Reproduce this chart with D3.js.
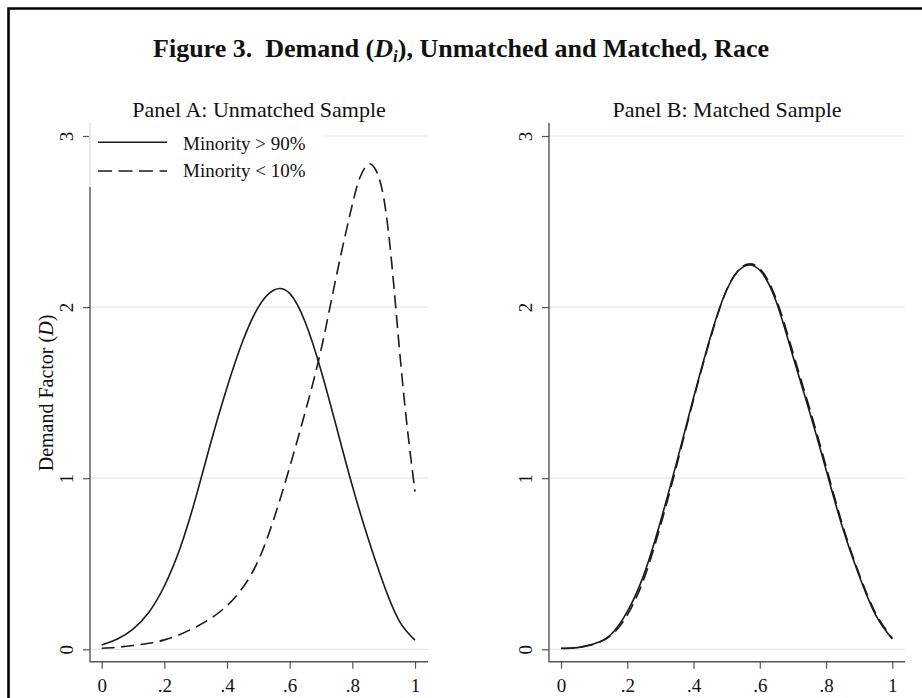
<!DOCTYPE html>
<html>
<head>
<meta charset="utf-8">
<script src="https://cdn.jsdelivr.net/npm/d3@7"></script>
<style>
  body { margin: 0; background: #fff; }
  text { font-family: "Liberation Serif", "Times New Roman", serif; fill: #111; }
</style>
</head>
<body>
<div id="chart"></div>
<script>
// demand factor
let xs = [0, 0.05, 0.1, 0.15, 0.2, 0.25, 0.3, 0.35, 0.4, 0.45, 0.5, 0.55, 0.6, 0.65, 0.7, 0.75, 0.8, 0.85, 0.9, 0.95, 1]
let unmatchedHigh = [0.025, 0.06, 0.118, 0.215, 0.37, 0.59, 0.885, 1.22, 1.53, 1.8, 2.0, 2.1, 2.08, 1.91, 1.63, 1.295, 0.955, 0.65, 0.38, 0.165, 0.054]
let xsLow = [0, 0.05, 0.1, 0.15, 0.2, 0.25, 0.3, 0.35, 0.4, 0.45, 0.5, 0.55, 0.6, 0.65, 0.7, 0.75, 0.8, 0.825, 0.85, 0.875, 0.9, 0.925, 0.95, 0.975, 1]
let unmatchedLow = [0.006, 0.012, 0.022, 0.035, 0.055, 0.087, 0.13, 0.183, 0.255, 0.36, 0.52, 0.765, 1.065, 1.39, 1.75, 2.19, 2.6, 2.76, 2.835, 2.8, 2.64, 2.27, 1.76, 1.3, 0.922]
let matchedHigh = [0.006, 0.01, 0.032, 0.085, 0.22, 0.435, 0.745, 1.1, 1.47, 1.82, 2.1, 2.235, 2.215, 2.03, 1.713, 1.39, 1.05, 0.71, 0.43, 0.2, 0.06]
let matchedLow = [0.005, 0.01, 0.03, 0.08, 0.2, 0.41, 0.72, 1.08, 1.46, 1.81, 2.1, 2.24, 2.225, 2.045, 1.735, 1.41, 1.07, 0.725, 0.44, 0.21, 0.065]

let xTicks = [0, 0.2, 0.4, 0.6, 0.8, 1]
let yTicks = [0, 1, 2, 3]
let seriesNames = ["Minority > 90%", "Minority < 10%"]

let width = 922, height = 698
let svg = d3.select("#chart").append("svg")
    .attr("width", width)
    .attr("height", height)

// frame (left + top only, like the scan)
svg.append("path")
    .attr("d", "M8.5," + height + "V8.5H" + width)
    .style("fill", "none")
    .style("stroke", "#000")
    .style("stroke-width", 2.6)

let title = svg.append("text")
    .attr("x", 461).attr("y", 57)
    .attr("text-anchor", "middle")
    .style("font-size", "26px")
    .style("font-weight", "bold")
title.append("tspan").text("Figure 3.\u00a0 Demand (")
title.append("tspan").style("font-style", "italic").text("D")
title.append("tspan").style("font-style", "italic").style("font-size", "17px").attr("dy", 5).text("i")
title.append("tspan").attr("dy", -5).text("), Unmatched and Matched, Race")

let y = d3.scaleLinear().domain([0, 3]).range([649.3, 136])
let axisBottomY = 661.7, axisTopY = 123

let panels = [
    {name: "Panel A: Unmatched Sample", left: 90, right: 428, x0: 101.7, x1: 415,
     lines: [{xs: xs, ys: unmatchedHigh, dash: null}, {xs: xsLow, ys: unmatchedLow, dash: "13,6.5"}], legend: true, ytitle: true},
    {name: "Panel B: Matched Sample", left: 549, right: 905, x0: 561, x1: 892.3,
     lines: [{xs: xs, ys: matchedLow, dash: "13,6.5"}, {xs: xs, ys: matchedHigh, dash: null}], legend: false, ytitle: false}
]

let fmt = d => d == 0 ? "0" : d == 1 ? "1" : String(d).replace("0.", ".")

panels.forEach(p => {
    let x = d3.scaleLinear().domain([0, 1]).range([p.x0, p.x1])
    let g = svg.append("g")

    // grid
    g.selectAll("line.grid").data(yTicks).enter().append("line")
        .attr("class", "grid")
        .attr("x1", p.left).attr("x2", p.right)
        .attr("y1", d => y(d)).attr("y2", d => y(d))
        .style("stroke", "#e6e6e6")
        .style("stroke-width", 1.2)

    // axes
    let ax = g.append("g").attr("transform", "translate(0," + axisBottomY + ")")
        .call(d3.axisBottom(x).tickValues(xTicks).tickFormat(fmt).tickSize(7).tickSizeOuter(0))
    ax.select(".domain").remove()
    ax.selectAll("line").style("stroke", "#555").style("stroke-width", 1.2)
    ax.selectAll("text").attr("y", 17).attr("dy", "0.71em")
        .style("font-size", "19px").style("font-family", "Liberation Serif").style("fill", "#111")

    let ay = g.append("g").attr("transform", "translate(" + p.left + ",0)")
        .call(d3.axisLeft(y).tickValues(yTicks).tickFormat(d3.format("d")).tickSize(7).tickSizeOuter(0))
    ay.select(".domain").remove()
    ay.selectAll("line").style("stroke", "#555").style("stroke-width", 1.2)
    ay.selectAll("text")
        .attr("x", 0).attr("dy", 0)
        .attr("transform", "translate(-17,0) rotate(-90)")
        .attr("text-anchor", "middle")
        .style("font-size", "19px").style("font-family", "Liberation Serif").style("fill", "#111")

    g.append("line")
        .attr("x1", p.left).attr("x2", p.left).attr("y1", axisTopY).attr("y2", axisBottomY + 0.6)
        .style("stroke", "#555").style("stroke-width", 1.4)
    g.append("line")
        .attr("x1", p.left).attr("x2", p.right).attr("y1", axisBottomY).attr("y2", axisBottomY)
        .style("stroke", "#555").style("stroke-width", 1.4)

    // curves
    let line = d3.line()
        .x(d => x(d[0]))
        .y(d => y(d[1]))
        .curve(d3.curveNatural)
    p.lines.forEach(s => {
        g.append("path")
            .datum(d3.zip(s.xs, s.ys))
            .attr("d", line)
            .style("fill", "none")
            .style("stroke", "#1a1a1a")
            .style("stroke-width", 1.6)
            .style("stroke-dasharray", s.dash)
    })

    g.append("text")
        .attr("x", (p.left + p.right) / 2).attr("y", 116.7)
        .attr("text-anchor", "middle")
        .style("font-size", "22px")
        .text(p.name)

    if (p.ytitle) {
        let t = svg.append("text")
            .attr("transform", "translate(53,393) rotate(-90)")
            .attr("text-anchor", "middle")
            .style("font-size", "20px")
        t.append("tspan").text("Demand Factor (")
        t.append("tspan").style("font-style", "italic").text("D")
        t.append("tspan").text(")")
    }

    if (p.legend) {
        let lg = g.append("g")
        lg.append("rect")
            .attr("x", p.left - 1).attr("y", 123).attr("width", 236).attr("height", 64)
            .style("fill", "#fff").style("fill-opacity", 0.8)
        let rows = [{y: 142.3, ty: 150, dash: null}, {y: 171, ty: 177.3, dash: "14,6.5"}]
        rows.forEach((r, i) => {
            lg.append("line")
                .attr("x1", 98).attr("x2", 167).attr("y1", r.y).attr("y2", r.y)
                .style("stroke", "#1a1a1a").style("stroke-width", 1.6)
                .style("stroke-dasharray", r.dash)
            lg.append("text")
                .attr("x", 183).attr("y", r.ty)
                .style("font-size", "19px")
                .text(seriesNames[i])
        })
    }
})
</script>
</body>
</html>
